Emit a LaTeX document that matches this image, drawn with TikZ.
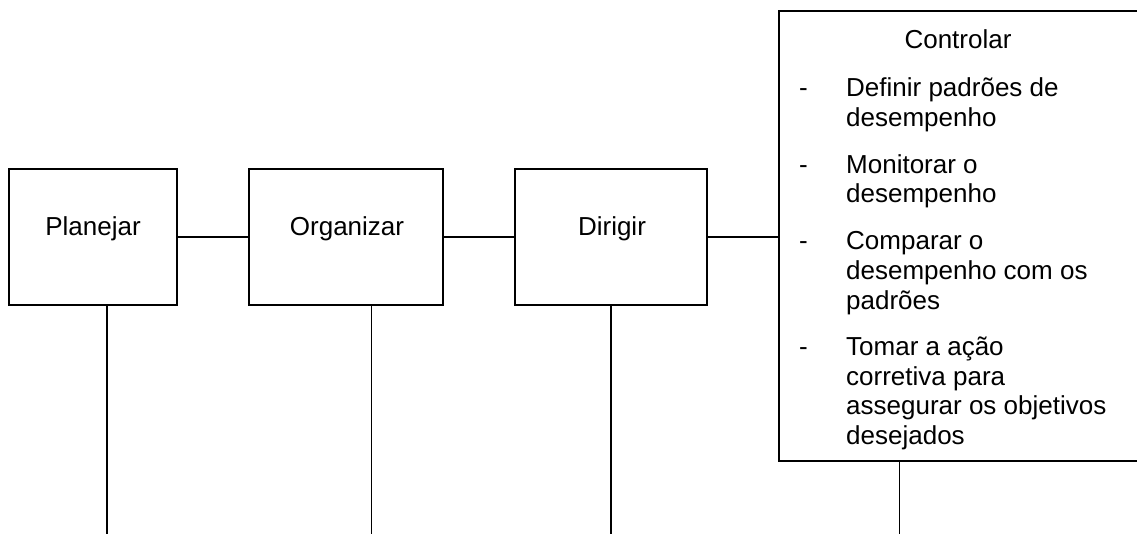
\documentclass[tikz,border=0pt]{standalone}
\usepackage{fontspec}
\setmainfont{Liberation Sans}
\begin{document}
\begin{tikzpicture}[x=1pt,y=-1pt,
  box/.style={draw=black, line width=1.8pt, fill=white, inner sep=0pt},
  conn/.style={draw=black, line width=1.3pt},
  txt/.style={font=\fontsize{26}{30}\selectfont, inner sep=0pt, anchor=base},
  itm/.style={font=\fontsize{26}{30}\selectfont, inner sep=0pt, anchor=base west}]
\useasboundingbox (0,0) rectangle (1137,534);
\begin{scope}
\clip (0,0) rectangle (1137,534);
% boxes
\node[box, minimum width=168pt, minimum height=136pt] (plan) at (93,237) {};
\node[box, minimum width=194pt, minimum height=136pt] (org) at (346,237) {};
\node[box, minimum width=192pt, minimum height=136pt] (dir) at (611,237) {};
\node[box, minimum width=361pt, minimum height=450pt] (ctl) at (959.5,236) {};
% box titles
\node[txt] (planT) at (93,236) {Planejar};
\node[txt] (orgT) at (347,236) {Organizar};
\node[txt] (dirT) at (612,236) {Dirigir};
\node[txt] (ctlT) at (958,49) {Controlar};
% items
\node[itm] (d1) at (799,97) {-};
\node[itm] (i1a) at (846,97) {Definir padrões de};
\node[itm] (i1b) at (846,126.5) {desempenho};
\node[itm] (d2) at (799,173.5) {-};
\node[itm] (i2a) at (846,173.5) {Monitorar o};
\node[itm] (i2b) at (846,203) {desempenho};
\node[itm] (d3) at (799,250) {-};
\node[itm] (i3a) at (846,250) {Comparar o};
\node[itm] (i3b) at (846,279.5) {desempenho com os};
\node[itm] (i3c) at (846,309) {padrões};
\node[itm] (d4) at (799,355.5) {-};
\node[itm] (i4a) at (846,355.5) {Tomar a ação};
\node[itm] (i4b) at (846,385) {corretiva para};
\node[itm] (i4c) at (846,414.5) {assegurar os objetivos};
\node[itm] (i4d) at (846,444) {desejados};
% horizontal connectors
\draw[conn] (plan.east) -- (org.west);
\draw[conn] (org.east) -- (dir.west);
\draw[conn] (dir.east) -- (dir.east -| ctl.west);
% vertical connectors to the bottom edge
\coordinate (b1) at (107,534);
\coordinate (b2) at (371.5,534);
\coordinate (b3) at (611,534);
\coordinate (b4) at (899.5,534);
\draw[conn] (plan.south -| b1) -- (b1);
\draw[conn] (org.south -| b2) -- (b2);
\draw[conn] (dir.south -| b3) -- (b3);
\draw[conn] (ctl.south -| b4) -- (b4);
\end{scope}
\end{tikzpicture}
\end{document}
